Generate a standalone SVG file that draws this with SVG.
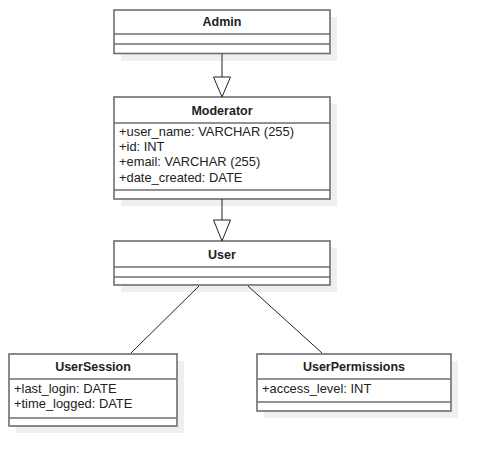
<svg xmlns="http://www.w3.org/2000/svg" width="490" height="466" viewBox="0 0 490 466">
<style>
.shadow{fill:#efefef;stroke:none}
.box{fill:#fff;stroke:#6e6e6e;stroke-width:1.6}
.div{stroke:#6e6e6e;stroke-width:1.6}
.name{font-family:"Liberation Sans",Arial,sans-serif;font-size:12.5px;font-weight:bold;fill:#222;text-anchor:middle}
.attr{font-family:"Liberation Sans",Arial,sans-serif;font-size:12.9px;fill:#222}
.conn{stroke:#222;stroke-width:1;fill:none}
.tri{fill:#fff;stroke:#222;stroke-width:1}
</style>
<rect width="490" height="466" fill="#fff"/>
<g id="Admin">
<rect class="shadow" x="121" y="17" width="216" height="44"/>
<rect class="box" x="114" y="10" width="216" height="43.5"/>
<line class="div" x1="114" y1="34" x2="330" y2="34"/>
<line class="div" x1="114" y1="44" x2="330" y2="44"/>
<text class="name" x="222" y="26">Admin</text>
</g>
<g id="Moderator">
<rect class="shadow" x="121" y="104" width="216" height="102"/>
<rect class="box" x="114" y="97" width="216" height="102"/>
<line class="div" x1="114" y1="123" x2="330" y2="123"/>
<line class="div" x1="114" y1="190" x2="330" y2="190"/>
<text class="name" x="222" y="115">Moderator</text>
<text class="attr" x="119" y="136">+user_name: VARCHAR (255)</text>
<text class="attr" x="119" y="151">+id: INT</text>
<text class="attr" x="119" y="166">+email: VARCHAR (255)</text>
<text class="attr" x="119" y="182">+date_created: DATE</text>
</g>
<g id="User">
<rect class="shadow" x="121" y="248" width="216" height="44"/>
<rect class="box" x="114" y="241" width="216" height="44"/>
<line class="div" x1="114" y1="267" x2="330" y2="267"/>
<line class="div" x1="114" y1="277" x2="330" y2="277"/>
<text class="name" x="222" y="259">User</text>
</g>
<g id="UserSession">
<rect class="shadow" x="16" y="361" width="168" height="72"/>
<rect class="box" x="9" y="354" width="168" height="72"/>
<line class="div" x1="9" y1="379" x2="177" y2="379"/>
<line class="div" x1="9" y1="418" x2="177" y2="418"/>
<text class="name" x="93" y="371">UserSession</text>
<text class="attr" x="14" y="393">+last_login: DATE</text>
<text class="attr" x="14" y="408">+time_logged: DATE</text>
</g>
<g id="UserPermissions">
<rect class="shadow" x="264" y="361" width="194" height="57"/>
<rect class="box" x="257" y="354" width="194" height="57"/>
<line class="div" x1="257" y1="379" x2="451" y2="379"/>
<line class="div" x1="257" y1="402" x2="451" y2="402"/>
<text class="name" x="354" y="371">UserPermissions</text>
<text class="attr" x="262" y="393">+access_level: INT</text>
</g>
<g id="connectors">
<line class="conn" x1="222" y1="54" x2="222" y2="77"/>
<polygon class="tri" points="213.5,77 230.5,77 222,97"/>
<line class="conn" x1="222" y1="199" x2="222" y2="220"/>
<polygon class="tri" points="213.5,220 230.5,220 222,241"/>
<line class="conn" x1="199" y1="286" x2="131" y2="353"/>
<line class="conn" x1="248" y1="286" x2="322" y2="353"/>
</g>
</svg>
